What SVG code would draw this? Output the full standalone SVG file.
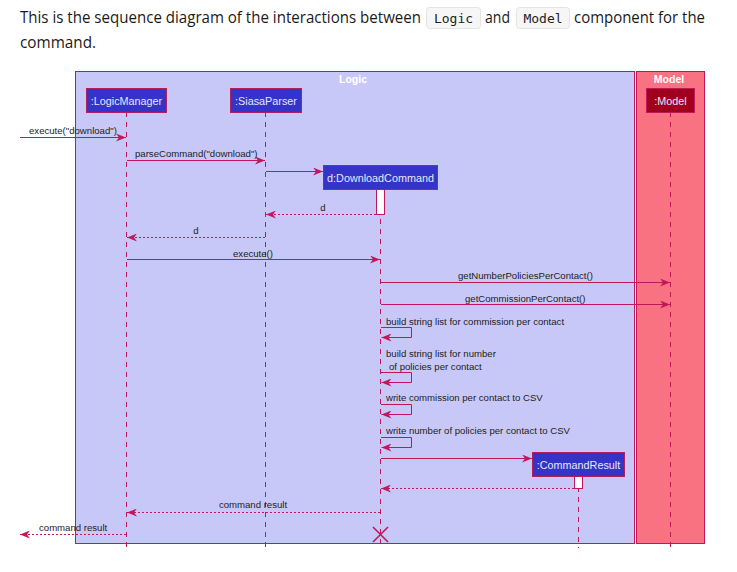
<svg xmlns="http://www.w3.org/2000/svg" width="737" height="572" viewBox="0 0 737 572">
<defs>
<style>
.hd{font-family:"Open Sans","Noto Sans",sans-serif;font-size:15.5px;fill:#1a1a1a}
.code{font-family:"DejaVu Sans Mono","Liberation Mono",monospace;font-size:13px;fill:#222}
.cbox{fill:#F6F6F6;stroke:#E4E4E4;stroke-width:1}
.frame{stroke:#C2185B;stroke-width:1}
.ftitle{font-family:"Liberation Sans",Arial,sans-serif;font-size:10.5px;font-weight:bold;fill:#FFFFFF;text-anchor:middle}
.part{fill:#3434C8;stroke:#B0205A;stroke-width:1}
.ptxt{font-family:"Liberation Sans",Arial,sans-serif;font-size:10.8px;fill:#E6E6FF;text-anchor:middle}
.life{stroke:#C2185B;stroke-width:1;stroke-dasharray:5,5;fill:none}
.msg{stroke:#C2185B;stroke-width:1;fill:none;marker-end:url(#ah)}
.ret{stroke:#C2185B;stroke-width:1;fill:none;stroke-dasharray:2,2;marker-end:url(#ah)}
.mt{font-family:"Liberation Sans",Arial,sans-serif;font-size:9.6px;fill:#222}
.act{fill:#FFFFFF;stroke:#C2185B;stroke-width:1}
</style>
<marker id="ah" viewBox="0 0 10 8" refX="10" refY="4" markerWidth="10" markerHeight="8" markerUnits="userSpaceOnUse" orient="auto">
<path d="M0,0 L10,4 L0,8 L3,4 Z" fill="#C2185B"/>
</marker>
</defs>
<rect width="737" height="572" fill="#FFFFFF"/>

<g id="header">
<rect class="cbox" x="426.5" y="7.5" width="54" height="21" rx="3"/>
<rect class="cbox" x="516.5" y="7.5" width="53" height="21" rx="3"/>
<text class="hd" x="20" y="23" textLength="401" lengthAdjust="spacingAndGlyphs">This is the sequence diagram of the interactions between</text>
<text class="code" x="453.5" y="23" text-anchor="middle">Logic</text>
<text class="hd" x="485" y="23" textLength="25" lengthAdjust="spacingAndGlyphs">and</text>
<text class="code" x="543" y="23" text-anchor="middle">Model</text>
<text class="hd" x="574" y="23" textLength="131" lengthAdjust="spacingAndGlyphs">component for the</text>
<text class="hd" x="20" y="48" textLength="76" lengthAdjust="spacingAndGlyphs">command.</text>
</g>

<g id="logic-frame">
<rect class="frame" x="75.5" y="71.5" width="559" height="472" fill="#C8C8F8"/>
<text class="ftitle" x="353" y="83">Logic</text>
</g>
<g id="model-frame">
<rect class="frame" x="636.5" y="71.5" width="68" height="472" fill="#F97281"/>
<text class="ftitle" x="669" y="83">Model</text>
</g>

<g id="lifelines">
<line class="life" x1="126.5" y1="112" x2="126.5" y2="548"/>
<line class="life" x1="265.5" y1="112" x2="265.5" y2="548"/>
<line class="life" x1="380.5" y1="189" x2="380.5" y2="548"/>
<line class="life" x1="578.5" y1="477" x2="578.5" y2="548"/>
<line class="life" x1="670.5" y1="112" x2="670.5" y2="548"/>
</g>

<g id="LogicManager">
<rect class="part" x="86.5" y="88.5" width="80" height="24"/>
<text class="ptxt" x="126.5" y="104.5">:LogicManager</text>
</g>
<g id="SiasaParser">
<rect class="part" x="230.5" y="88.5" width="71" height="24"/>
<text class="ptxt" x="266" y="104.5">:SiasaParser</text>
</g>
<g id="Model">
<rect x="646.5" y="88.5" width="48" height="24" fill="#A0001E" stroke="#C2185B"/>
<text class="ptxt" x="670.5" y="104.5">:Model</text>
</g>
<g id="DownloadCommand">
<rect class="part" x="323.5" y="165.5" width="114" height="24"/>
<text class="ptxt" x="380.5" y="181.5">d:DownloadCommand</text>
<rect class="act" x="376.5" y="189.5" width="8" height="25"/>
</g>
<g id="CommandResult">
<rect class="part" x="532.5" y="452.5" width="92" height="24"/>
<text class="ptxt" x="578.5" y="468.5">:CommandResult</text>
<rect class="act" x="574.5" y="476.5" width="8" height="12"/>
</g>

<g id="connectors">
<line class="msg" x1="20" y1="137.5" x2="126" y2="137.5"/>
<line class="msg" x1="127" y1="160.5" x2="265" y2="160.5"/>
<line class="msg" x1="266" y1="171.5" x2="323" y2="171.5"/>
<line class="ret" x1="376" y1="214.5" x2="266" y2="214.5"/>
<line class="ret" x1="265" y1="237.5" x2="127" y2="237.5"/>
<line class="msg" x1="127" y1="259.5" x2="380" y2="259.5"/>
<line class="msg" x1="381" y1="282.5" x2="670" y2="282.5"/>
<line class="msg" x1="381" y1="304.5" x2="670" y2="304.5"/>
<path class="msg" d="M381,327.5 H411.5 V337.5 H381.5"/>
<path class="msg" d="M381,372.5 H411.5 V382.5 H381.5"/>
<path class="msg" d="M381,404.5 H411.5 V414.5 H381.5"/>
<path class="msg" d="M381,437.5 H411.5 V447.5 H381.5"/>
<line class="msg" x1="381" y1="458.5" x2="532" y2="458.5"/>
<line class="ret" x1="574" y1="488.5" x2="381" y2="488.5"/>
<line class="ret" x1="380" y1="512.5" x2="127" y2="512.5"/>
<line class="ret" x1="126" y1="534.5" x2="20" y2="534.5"/>
<path d="M373,527 L388,542 M388,527 L373,542" stroke="#C2185B" stroke-width="1.6" fill="none"/>
</g>

<g id="labels">
<text class="mt" x="29" y="134">execute("download")</text>
<text class="mt" x="135" y="156.5">parseCommand("download")</text>
<text class="mt" x="323" y="211" text-anchor="middle">d</text>
<text class="mt" x="196" y="234" text-anchor="middle">d</text>
<text class="mt" x="253" y="256.5" text-anchor="middle">execute()</text>
<text class="mt" x="458" y="279">getNumberPoliciesPerContact()</text>
<text class="mt" x="465" y="301.5">getCommissionPerContact()</text>
<text class="mt" x="386" y="324.5">build string list for commission per contact</text>
<text class="mt" x="386" y="356.5">build string list for number</text>
<text class="mt" x="389" y="369.5">of policies per contact</text>
<text class="mt" x="386" y="401">write commission per contact to CSV</text>
<text class="mt" x="386" y="434">write number of policies per contact to CSV</text>
<text class="mt" x="253" y="508" text-anchor="middle">command result</text>
<text class="mt" x="39" y="531">command result</text>
</g>
</svg>
